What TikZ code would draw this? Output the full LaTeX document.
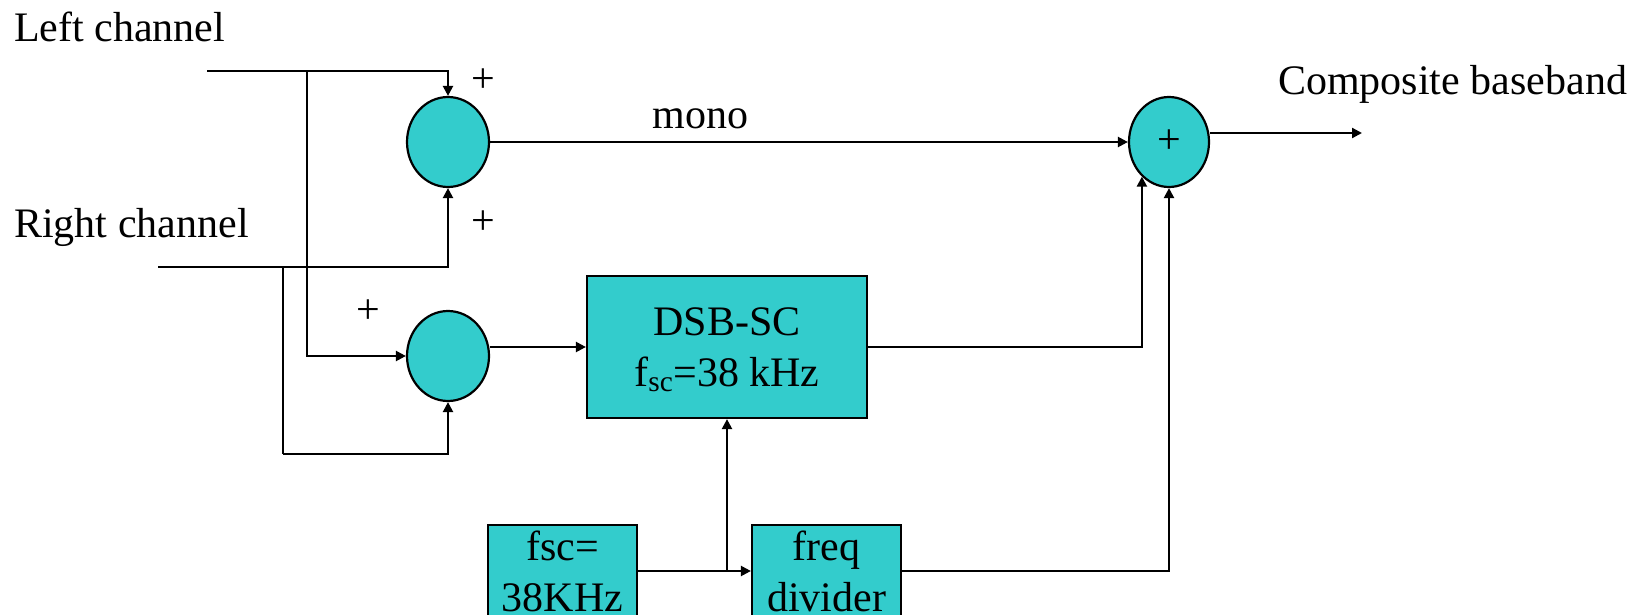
\documentclass[tikz,border=0pt]{standalone}
\usepackage{fontspec}
\setmainfont{Liberation Serif}
\usetikzlibrary{arrows.meta,shapes.geometric}
\definecolor{teal}{RGB}{51,204,204}
\begin{document}
\begin{tikzpicture}[x=1pt,y=-1pt,
  every node/.style={font=\fontsize{42}{51}\selectfont, inner sep=0pt},
  conn/.style={line width=2.2pt},
  arr/.style={conn,-{Triangle[length=10pt,width=10pt]}},
  summer/.style={ellipse, draw, line width=2.2pt, fill=teal, minimum width=82pt, minimum height=90pt},
  blockbox/.style={rectangle, draw, line width=2.2pt, fill=teal, align=center}]
\useasboundingbox (0,0) rectangle (1649,615);
\clip (0,0) rectangle (1649,615);
% labels
\node[anchor=base west] (lc) at (14,42) {Left channel};
\node[anchor=base west] (rc) at (14,237) {Right channel};
\node[anchor=base west] (cb) at (1278,95) {Composite baseband};
% summing junctions
\node[summer] (c1) at (448,142) {};
\node[summer] (c2) at (448,356) {};
\node[summer, minimum width=80pt] (c3) at (1169,142) {+};
% blocks
\node[blockbox, minimum width=280pt, minimum height=142pt] (dsb) at (727,347) {DSB-SC\\f\smash{\textsubscript{sc}}=38 kHz};
\node[blockbox, minimum width=149pt, minimum height=92pt] (osc) at (562.5,571) {fsc=\\38KHz};
\node[blockbox, minimum width=149pt, minimum height=92pt] (div) at (826.5,571) {freq\\divider};
% plus signs
\node (p1) at (483,81) {+};
\node (p2) at (483,223) {+};
\node (p3) at (368,312) {+};
% input lines
\coordinate (lin) at (207,70.7);
\coordinate (rin) at (158,266.7);
\coordinate (lbr) at (307,70.7);
\coordinate (rbr) at (283,266.7);
\coordinate (rlow) at (283,454);
\draw[arr] (lin) -| (c1.north);
\draw[arr] (rin) -| (c1.south);
\draw[arr] (lbr) |- (c2.west);
\draw[conn] (rbr) -- (rlow);
\draw[arr] (rlow) -| (c2.south);
% mono path
\draw[arr] (c1.east) -- node[pos=0.33, anchor=base, yshift=13pt] (mono) {mono} (c3.west);
% c2 to dsb
\draw[arr] (c2.east |- dsb.west) -- (dsb.west);
% dsb to c3
\draw[arr] (dsb.east) -| (c3.232);
% oscillator
\coordinate (obr) at (727,571);
\draw[arr] (osc.east) -- (div.west);
\draw[arr] (obr) -- (dsb.south);
\draw[arr] (div.east) -| (c3.south);
% output
\coordinate (out) at (1362,133);
\draw[arr] (c3.east |- out) -- (out);
\end{tikzpicture}
\end{document}
